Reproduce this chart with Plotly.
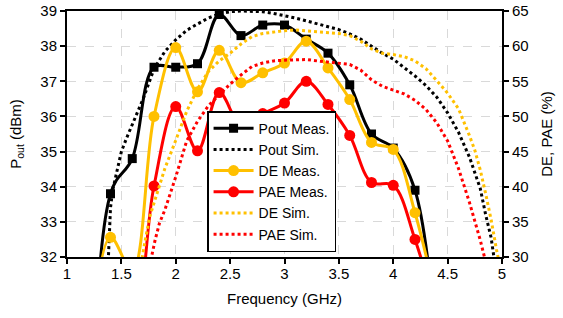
import plotly.graph_objects as go

# ---- measured data (0.2 GHz steps) ----
freq_meas = [1.2, 1.4, 1.6, 1.8, 2.0, 2.2, 2.4, 2.6, 2.8, 3.0, 3.2, 3.4, 3.6, 3.8, 4.0, 4.2, 4.4]
pout_meas = [8.0, 33.8, 34.8, 37.4, 37.4, 37.5, 38.9, 38.3, 38.6, 38.6, 38.2, 37.8, 36.9, 35.5, 35.1, 33.9, 29.5]
de_meas = [14.0, 32.8, 28.0, 50.0, 59.8, 53.5, 59.4, 54.8, 56.2, 57.6, 60.7, 56.9, 52.4, 46.3, 45.3, 36.3, 23.5]
pae_meas = [8.0, 14.0, 18.0, 40.1, 51.4, 45.1, 53.4, 48.8, 50.4, 51.9, 55.0, 51.7, 47.3, 40.6, 40.2, 32.5, 22.0]

# ---- simulated data ----
freq_pout_sim = [1.37, 1.38, 1.39, 1.40, 1.42, 1.45, 1.5, 1.55, 1.6, 1.7, 1.8, 1.9, 2.0, 2.1, 2.2, 2.3,
                 2.4, 2.5, 2.6, 2.7, 2.8, 2.9, 3.0, 3.1, 3.2, 3.3, 3.4, 3.5, 3.6, 3.7, 3.8, 3.9, 4.0,
                 4.1, 4.2, 4.3, 4.4, 4.5, 4.6, 4.7, 4.8, 4.85, 4.9, 4.93, 4.96]
pout_sim = [31.2, 32.0, 32.9, 33.4, 33.9, 34.35, 35.0, 35.4, 35.75, 36.5, 37.35, 37.85, 38.18, 38.45,
            38.63, 38.8, 38.92, 38.98, 39.0, 39.0, 38.98, 38.93, 38.87, 38.8, 38.72, 38.64, 38.56,
            38.47, 38.35, 38.2, 38.0, 37.8, 37.63, 37.4, 37.15, 36.88, 36.55, 36.1, 35.55, 34.85,
            33.95, 33.2, 32.55, 31.9, 31.2]

freq_de_sim = [1.68, 1.69, 1.72, 1.76, 1.8, 1.85, 1.9, 2.0, 2.1, 2.2, 2.3, 2.4, 2.5, 2.6, 2.7, 2.8,
               2.9, 3.0, 3.1, 3.2, 3.3, 3.4, 3.5, 3.6, 3.7, 3.8, 3.9, 4.0, 4.1, 4.2, 4.3, 4.4, 4.5,
               4.6, 4.65, 4.7, 4.75, 4.8, 4.85, 4.9, 4.95, 4.97]
de_sim = [29.0, 30.0, 32.4, 35.7, 37.6, 40.0, 42.6, 46.6, 50.7, 53.9, 56.4, 57.9, 59.0, 60.3, 61.35,
          61.8, 62.05, 62.2, 62.3, 62.2, 62.05, 62.0, 61.8, 61.5, 60.7, 59.6, 59.0, 58.8, 58.5, 57.9,
          56.8, 55.1, 53.3, 51.1, 49.3, 47.3, 45.2, 42.4, 39.0, 35.3, 31.0, 29.5]

freq_pae_sim = [1.77, 1.78, 1.81, 1.85, 1.9, 2.0, 2.1, 2.2, 2.3, 2.4, 2.5, 2.6, 2.7, 2.8, 2.9, 3.0,
                3.1, 3.2, 3.3, 3.4, 3.5, 3.6, 3.7, 3.8, 3.9, 4.0, 4.1, 4.2, 4.3, 4.4, 4.5, 4.6, 4.7,
                4.8, 4.85]
pae_sim = [29.5, 30.3, 32.4, 34.8, 36.7, 41.4, 46.5, 49.3, 51.5, 53.1, 54.6, 55.9, 57.1, 57.6, 57.9,
           58.0, 58.1, 58.1, 57.9, 57.7, 57.6, 57.4, 56.6, 55.2, 54.3, 53.8, 53.2, 52.3, 51.0, 49.1,
           46.5, 42.6, 37.8, 32.4, 29.3]

BLACK = "#000000"
GOLD = "#FFC000"
RED = "#FF0000"
FONT = "Liberation Sans, Arial, sans-serif"

fig = go.Figure()
fig.add_trace(go.Scatter(x=freq_meas, y=pout_meas, name="Pout Meas.", mode="lines+markers",
                         line=dict(color=BLACK, width=3, shape="spline", smoothing=1),
                         marker=dict(symbol="square", size=9, color=BLACK), yaxis="y"))
fig.add_trace(go.Scatter(x=freq_pout_sim, y=pout_sim, name="Pout Sim.", mode="lines",
                         line=dict(color=BLACK, width=3, dash="dot"), yaxis="y"))
fig.add_trace(go.Scatter(x=freq_meas, y=de_meas, name="DE Meas.", mode="lines+markers",
                         line=dict(color=GOLD, width=3, shape="spline", smoothing=1),
                         marker=dict(symbol="circle", size=11, color=GOLD), yaxis="y2"))
fig.add_trace(go.Scatter(x=freq_meas, y=pae_meas, name="PAE Meas.", mode="lines+markers",
                         line=dict(color=RED, width=3, shape="spline", smoothing=1),
                         marker=dict(symbol="circle", size=11, color=RED), yaxis="y2"))
fig.add_trace(go.Scatter(x=freq_de_sim, y=de_sim, name="DE Sim.", mode="lines",
                         line=dict(color=GOLD, width=3, dash="dot"), yaxis="y2"))
fig.add_trace(go.Scatter(x=freq_pae_sim, y=pae_sim, name="PAE Sim.", mode="lines",
                         line=dict(color=RED, width=3, dash="dot"), yaxis="y2"))

axis_common = dict(showline=True, linecolor=BLACK, linewidth=2, ticks="outside", ticklen=5,
                   tickcolor=BLACK, tickwidth=1.5, zeroline=False, automargin=False,
                   ticklabeloverflow="allow",
                   tickfont=dict(family=FONT, size=15, color=BLACK))

fig.update_layout(
    width=563, height=318,
    margin=dict(l=67, r=61, t=11, b=61, autoexpand=False),
    paper_bgcolor="white", plot_bgcolor="white",
    font=dict(family=FONT, size=15, color=BLACK),
    showlegend=True,
    legend=dict(x=0.322, y=0.02, xanchor="left", yanchor="bottom",
                bgcolor="white", bordercolor=BLACK, borderwidth=1.5,
                font=dict(family=FONT, size=14, color=BLACK),
                tracegroupgap=0, itemwidth=40),
    xaxis=dict(range=[1, 5], dtick=0.5, mirror=True, showgrid=True, gridcolor="#d9d9d9",
               griddash="dash", gridwidth=1, ticklabelstandoff=-3,
               title=dict(text="Frequency (GHz)", standoff=12,
                          font=dict(family=FONT, size=15, color=BLACK)),
               **axis_common),
    yaxis=dict(range=[32, 39], dtick=1, mirror=True, showgrid=True, gridcolor="#d9d9d9",
               griddash="dash", gridwidth=1,
               title=dict(text="P<sub>out</sub> (dBm)", standoff=15,
                          font=dict(family=FONT, size=15, color=BLACK)),
               **axis_common),
    yaxis2=dict(range=[30, 65], dtick=5, overlaying="y", side="right", showgrid=False,
                title=dict(text="DE, PAE (%)", standoff=14,
                           font=dict(family=FONT, size=15, color=BLACK)),
                **axis_common),
)

# remove the browser's default 8px body margin so the figure fills the window exactly
fig.write_html("out.html", config={"displayModeBar": False},
               post_script="document.body.style.margin='0';")
